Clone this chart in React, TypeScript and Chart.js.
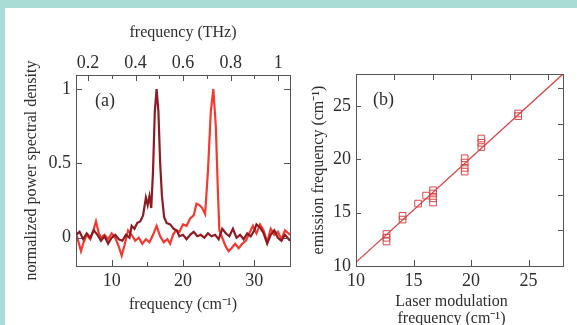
import React, { useEffect, useRef } from "react";
import { Chart, registerables } from "chart.js";

Chart.register(...registerables);

const CM_PER_THZ = 33.356;

// ---- Panel (a): normalized power spectral density ----
const DARK_X = [5.0, 5.5, 6.0, 6.5, 7.0, 7.5, 8.0, 8.5, 9.0, 9.5, 10.0, 10.5, 11.0, 11.5, 12.0, 12.5, 12.8, 13.2, 13.6, 14.0, 14.4, 14.8, 15.05, 15.3, 15.55, 15.8, 16.05, 16.3, 16.55, 16.8, 17.05, 17.35, 17.7, 18.2, 18.7, 19.1, 19.5, 20.0, 20.5, 21.0, 21.5, 22.0, 22.5, 23.0, 23.5, 24.0, 24.5, 25.0, 25.5, 26.0, 26.5, 27.0, 27.5, 28.0, 28.5, 29.0, 29.5, 30.0, 30.3, 30.8, 31.3, 31.8, 32.3, 32.8, 33.3, 33.8, 34.3, 35.0];
const DARK_Y = [0.02, 0.04, -0.01, 0.03, 0.0, 0.05, 0.02, -0.02, 0.01, -0.04, 0.0, 0.02, -0.01, -0.02, 0.02, 0.0, 0.08, 0.06, 0.1, 0.11, 0.15, 0.27, 0.22, 0.28, 0.2, 0.45, 0.85, 1.0, 0.85, 0.5, 0.28, 0.14, 0.1, 0.09, 0.06, 0.05, 0.01, 0.02, -0.01, 0.02, 0.04, 0.01, 0.02, 0.0, 0.03, 0.01, 0.02, -0.01, 0.06, 0.03, 0.01, 0.06, 0.0, 0.02, -0.01, 0.03, 0.01, 0.05, 0.09, 0.07, 0.03, -0.04, 0.02, 0.05, 0.0, -0.02, 0.02, -0.02];

const BRIGHT_X = [5.0, 5.3, 5.7, 6.0, 6.5, 7.0, 7.5, 7.8, 8.2, 8.5, 9.0, 9.5, 10.0, 10.5, 11.0, 11.4, 11.8, 12.3, 12.8, 13.3, 13.8, 14.3, 14.8, 15.3, 15.8, 16.3, 16.8, 17.3, 17.8, 18.2, 18.6, 19.0, 19.5, 20.0, 20.5, 21.0, 21.5, 21.9, 22.3, 22.7, 23.1, 23.5, 23.9, 24.25, 24.6, 24.9, 25.1, 25.5, 26.0, 26.4, 26.8, 27.3, 27.8, 28.3, 28.8, 29.3, 29.8, 30.3, 30.8, 31.3, 31.8, 32.3, 32.8, 33.3, 33.8, 34.3, 35.0];
const BRIGHT_Y = [0.03, -0.02, -0.09, -0.04, 0.02, -0.01, 0.06, 0.11, 0.03, 0.0, 0.02, -0.01, 0.03, 0.0, -0.06, -0.12, -0.05, 0.05, 0.02, -0.02, 0.0, -0.04, -0.01, -0.03, 0.02, 0.08, 0.01, -0.03, -0.01, -0.04, 0.02, 0.05, 0.04, 0.09, 0.08, 0.13, 0.15, 0.23, 0.22, 0.2, 0.16, 0.45, 0.85, 1.0, 0.75, 0.3, 0.05, 0.0, -0.06, -0.09, -0.07, -0.04, -0.07, -0.04, -0.02, 0.03, 0.08, 0.03, 0.09, 0.05, -0.03, 0.06, 0.02, 0.04, -0.01, 0.05, 0.02];

const A_X_TICKS = [10, 20, 30];
const A_X_MINOR = [15, 25];
const A_Y_TICKS = [0, 0.5, 1];
const THZ_TICKS = [0.2, 0.4, 0.6, 0.8, 1];
const THZ_MINOR = [0.3, 0.5, 0.7, 0.9];

// ---- Panel (b): emission vs laser modulation frequency ----
const MOD_X = [12.65, 12.65, 12.65, 14.05, 14.05, 15.4, 16.1, 16.7, 16.7, 16.7, 16.7, 19.45, 19.45, 19.45, 19.45, 20.9, 20.9, 20.9, 24.1, 24.1];
const EMIT_Y = [13.0, 12.65, 12.3, 14.7, 14.35, 15.85, 16.6, 17.1, 16.8, 16.35, 15.95, 20.1, 19.7, 19.2, 18.85, 21.95, 21.55, 21.15, 24.3, 24.05];
const FIT_X = [10, 28];
const FIT_Y = [10.35, 28];
const B_TICKS = [10, 15, 20, 25];
const B_THZ_TICKS = [0.4, 0.5, 0.6, 0.7, 0.8];

const SERIF = "'Liberation Serif', 'Times New Roman', serif";
const TEXT = "#2e2e2e";
const FRAME = "#555555";
const TICK_FONT = { family: SERIF, size: 18 };
const TITLE_FONT = { family: SERIF, size: 16 };
const NOGRID = { display: false, drawTicks: false };

type Mark = { scale: string; side: "top" | "bottom" | "left" | "right"; values: number[]; len: number; factor?: number };

function frameAndTicks(marks: Mark[], label: string, lx: number, ly: number) {
  return {
    id: "frameTicks",
    afterDatasetsDraw(chart: any) {
      const { ctx, chartArea: a } = chart;
      ctx.save();
      ctx.strokeStyle = FRAME;
      ctx.lineWidth = 1;
      for (const m of marks) {
        const s = chart.scales[m.scale];
        for (const v of m.values) {
          const p = Math.round(s.getPixelForValue(v * (m.factor || 1))) + 0.5;
          ctx.beginPath();
          if (m.side === "bottom") { ctx.moveTo(p, a.bottom); ctx.lineTo(p, a.bottom - m.len); }
          if (m.side === "top") { ctx.moveTo(p, a.top); ctx.lineTo(p, a.top + m.len); }
          if (m.side === "left") { ctx.moveTo(a.left, p); ctx.lineTo(a.left + m.len, p); }
          if (m.side === "right") { ctx.moveTo(a.right, p); ctx.lineTo(a.right - m.len, p); }
          ctx.stroke();
        }
      }
      ctx.strokeRect(Math.round(a.left) + 0.5, Math.round(a.top) + 0.5, Math.round(a.right - a.left), Math.round(a.bottom - a.top));
      ctx.fillStyle = TEXT;
      ctx.font = `18px ${SERIF}`;
      ctx.textBaseline = "middle";
      ctx.textAlign = "left";
      ctx.fillText(label, a.left + lx, a.top + ly);
      ctx.restore();
    },
  };
}

const setTicks = (vals: number[]) => (s: any) => {
  s.ticks = vals.map((value) => ({ value }));
};

export default function App() {
  const refA = useRef<HTMLCanvasElement>(null);
  const refB = useRef<HTMLCanvasElement>(null);

  useEffect(() => {
    const chartA = new Chart(refA.current!, {
      type: "line",
      data: {
        datasets: [
          {
            data: DARK_X.map((x, i) => ({ x, y: DARK_Y[i] })),
            borderColor: "#8e1b24",
            borderWidth: 2.2,
            pointRadius: 0,
            tension: 0,
            xAxisID: "x",
            yAxisID: "y",
          },
          {
            data: BRIGHT_X.map((x, i) => ({ x, y: BRIGHT_Y[i] })),
            borderColor: "#f43a2f",
            borderWidth: 2.2,
            pointRadius: 0,
            tension: 0,
            xAxisID: "x",
            yAxisID: "y",
          },
        ],
      },
      options: {
        animation: false,
        responsive: false,
        devicePixelRatio: 1,
        layout: { padding: { left: 0, right: 10, top: 0, bottom: 0 } },
        plugins: { legend: { display: false }, tooltip: { enabled: false } },
        scales: {
          x: {
            type: "linear",
            position: "bottom",
            min: 5,
            max: 35,
            afterBuildTicks: setTicks(A_X_TICKS),
            afterFit: (s: any) => { s.height = 59; },
            ticks: { font: TICK_FONT, color: TEXT, padding: 4, maxRotation: 0, autoSkip: false },
            grid: NOGRID,
            border: { display: false },
            title: { display: true, text: "frequency (cm⁻¹)", font: TITLE_FONT, color: TEXT, padding: { top: 0, bottom: 11 } },
          },
          xTop: {
            type: "linear",
            position: "top",
            min: 5 / CM_PER_THZ,
            max: 35 / CM_PER_THZ,
            afterBuildTicks: setTicks(THZ_TICKS),
            afterFit: (s: any) => { s.height = 75; },
            ticks: { font: TICK_FONT, color: TEXT, padding: 1, maxRotation: 0, autoSkip: false, callback: (v: any) => String(v) },
            grid: NOGRID,
            border: { display: false },
            title: { display: true, text: "frequency (THz)", font: TITLE_FONT, color: TEXT, padding: { top: 23, bottom: 0 } },
          },
          y: {
            type: "linear",
            position: "left",
            min: -0.19,
            max: 1.095,
            afterBuildTicks: setTicks(A_Y_TICKS),
            afterFit: (s: any) => { s.width = 76; },
            ticks: { font: TICK_FONT, color: TEXT, padding: 5, callback: (v: any) => String(v) },
            grid: NOGRID,
            border: { display: false },
            title: { display: true, text: "normalized power spectral density", font: TITLE_FONT, color: TEXT, padding: { top: 22, bottom: 0 } },
          },
        },
      },
      plugins: [
        frameAndTicks(
          [
            { scale: "x", side: "bottom", values: A_X_TICKS, len: 6 },
            { scale: "x", side: "bottom", values: A_X_MINOR, len: 4 },
            { scale: "xTop", side: "top", values: THZ_TICKS, len: 6 },
            { scale: "xTop", side: "top", values: THZ_MINOR, len: 4 },
            { scale: "y", side: "left", values: A_Y_TICKS, len: 6 },
            { scale: "y", side: "right", values: A_Y_TICKS, len: 6 },
          ],
          "(a)",
          19,
          26
        ),
      ],
    } as any);

    const chartB = new Chart(refB.current!, {
      type: "scatter",
      data: {
        datasets: [
          {
            data: MOD_X.map((x, i) => ({ x, y: EMIT_Y[i] })),
            pointStyle: "rect",
            pointRadius: 4.7,
            borderColor: "#d8484b",
            backgroundColor: "rgba(0,0,0,0)",
            borderWidth: 1,
          },
          {
            data: FIT_X.map((x, i) => ({ x, y: FIT_Y[i] })),
            showLine: true,
            borderColor: "#d8484b",
            borderWidth: 1.3,
            pointRadius: 0,
          },
        ],
      },
      options: {
        animation: false,
        responsive: false,
        devicePixelRatio: 1,
        layout: { padding: { left: 0, right: 14, top: 74, bottom: 0 } },
        plugins: { legend: { display: false }, tooltip: { enabled: false } },
        scales: {
          x: {
            type: "linear",
            position: "bottom",
            min: 10,
            max: 28,
            afterBuildTicks: setTicks(B_TICKS),
            afterFit: (s: any) => { s.height = 59; },
            ticks: { font: TICK_FONT, color: TEXT, padding: 4, maxRotation: 0, autoSkip: false },
            grid: NOGRID,
            border: { display: false },
            title: {
              display: true,
              text: ["Laser modulation\u00a0\u00a0\u00a0\u00a0", "frequency (cm⁻¹)\u00a0\u00a0\u00a0\u00a0"],
              font: { family: SERIF, size: 16, lineHeight: 1.1 },
              color: TEXT,
              padding: { top: 0, bottom: -3 },
            },
          },
          y: {
            type: "linear",
            position: "left",
            min: 10,
            max: 28,
            afterBuildTicks: setTicks(B_TICKS),
            afterFit: (s: any) => { s.width = 56; },
            ticks: { font: TICK_FONT, color: TEXT, padding: 5 },
            grid: NOGRID,
            border: { display: false },
            title: { display: true, text: "emission frequency (cm⁻¹)", font: TITLE_FONT, color: TEXT, padding: { top: 9, bottom: 0 } },
          },
        },
      },
      plugins: [
        frameAndTicks(
          [
            { scale: "x", side: "bottom", values: B_TICKS, len: 6 },
            { scale: "y", side: "left", values: B_TICKS, len: 5 },
            { scale: "x", side: "top", values: B_THZ_TICKS, len: 6, factor: CM_PER_THZ },
            { scale: "y", side: "right", values: B_THZ_TICKS, len: 5, factor: CM_PER_THZ },
          ],
          "(b)",
          17,
          26
        ),
      ],
    } as any);

    return () => {
      chartA.destroy();
      chartB.destroy();
    };
  }, []);

  return (
    <div style={{ position: "fixed", left: 0, top: 0, width: 577, height: 325, background: "#a8dcd5", overflow: "hidden" }}>
      <div style={{ position: "absolute", left: 5, top: 8, right: 0, bottom: 0, background: "#ffffff" }} />
      <canvas ref={refA} width={300} height={325} style={{ position: "absolute", left: 0, top: 0, width: 300, height: 325 }} />
      <canvas ref={refB} width={277} height={325} style={{ position: "absolute", left: 300, top: 0, width: 277, height: 325 }} />
    </div>
  );
}
